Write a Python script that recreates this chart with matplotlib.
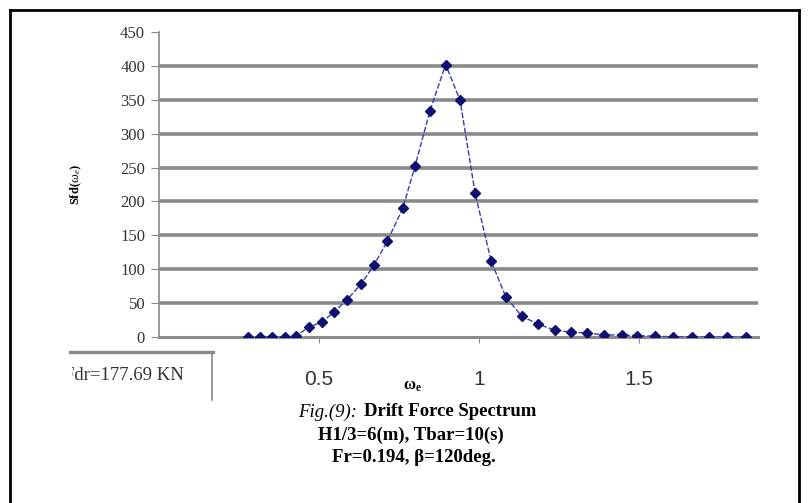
import matplotlib.pyplot as plt
from matplotlib.lines import Line2D
from matplotlib.transforms import Bbox

plt.rcParams['mathtext.fontset'] = 'custom'
plt.rcParams['mathtext.rm'] = 'Liberation Serif'
plt.rcParams['mathtext.it'] = 'Liberation Serif:italic'
plt.rcParams['mathtext.bf'] = 'Liberation Serif:bold'

# encounter frequency and drift force spectrum
omega = [0.278, 0.316, 0.353, 0.394, 0.428, 0.469, 0.509, 0.547, 0.588, 0.631,
         0.672, 0.713, 0.762, 0.800, 0.847, 0.896, 0.941, 0.988, 1.038, 1.084,
         1.133, 1.184, 1.238, 1.287, 1.337, 1.391, 1.446, 1.494, 1.550, 1.606,
         1.665, 1.719, 1.774, 1.836]
sfd = [0, 0, 0, 0, 1.5, 15, 22, 37, 55, 78,
       106, 141, 190, 252, 334, 402, 349, 212, 112, 59,
       31, 19, 10, 7, 6, 3, 3, 2, 1, 0.5,
       0, 0, 0, 0]
yticks = [0, 50, 100, 150, 200, 250, 300, 350, 400, 450]
xticks = [0.5, 1, 1.5]
xticklabels = ['0.5', '1', '1.5']

W, H = 808, 503
fig = plt.figure(figsize=(W / 100, H / 100), dpi=100)
ax = fig.add_axes([159 / W, (H - 337) / H, (758 - 159) / W, (337 - 32) / H])

for y in yticks[1:-1]:
    ax.axhline(y, color='#8a8a8a', lw=2.6, zorder=1)

ax.plot(omega, sfd, color='#3a3ab0', lw=1.0, ls=(0, (4, 1.5)), zorder=2)
ax.plot(omega, sfd, ls='none', marker='D', ms=5, color='#101070', zorder=3)

ax.set_xlim(0, 1.872)
ax.set_ylim(0, 450)
for s in ['top', 'right']:
    ax.spines[s].set_visible(False)
ax.spines['left'].set_color('#8a8a8a')
ax.spines['left'].set_linewidth(1.2)
ax.spines['bottom'].set_color('#8a8a8a')
ax.spines['bottom'].set_linewidth(2.2)
ax.spines['bottom'].set_zorder(1)

ax.set_yticks(yticks)
ax.set_yticklabels([str(v) for v in yticks], family='Liberation Serif',
                   fontsize=12, color='#333333')
ax.tick_params(axis='y', length=6, color='#8a8a8a', pad=4)
ax.set_xticks(xticks)
ax.set_xticklabels(xticklabels, family='Liberation Sans', fontsize=15, color='#333333')
ax.tick_params(axis='x', length=4, color='#8a8a8a', pad=20)

ax.set_ylabel(r'Sfd($\omega_e$)', family='Liberation Serif', fontsize=9,
              fontweight='bold')
ax.yaxis.set_label_coords(-0.125, 0.5)
fig.text(413 / W, 1 - 385 / H, r'$\mathbf{\omega_e}$', fontsize=12,
         ha='center', va='center')

# partly hidden text box at the lower left
fig.add_artist(Line2D([70 / W, 213 / W], [1 - 352 / H, 1 - 352 / H],
                      color='#8a8a8a', lw=2.4))
fig.add_artist(Line2D([212 / W, 212 / W], [1 - 352 / H, 1 - 400 / H],
                      color='#8a8a8a', lw=1.2))
t = fig.text(64 / W, 1 - 376 / H, 'Fdr=177.69 KN', family='Liberation Serif',
             fontsize=13.5, ha='left', va='center', color='#333333')
t.set_clip_box(Bbox([[72, 0], [211, H]]))
t.set_clip_on(True)

# caption
fig.text(357 / W, 1 - 412 / H, 'Fig.(9):', family='Liberation Serif',
         fontsize=13.5, style='italic', ha='right', va='center')
fig.text(364 / W, 1 - 412 / H, 'Drift Force Spectrum',
         family='Liberation Serif', fontsize=13.5, fontweight='bold',
         ha='left', va='center')
fig.text(411 / W, 1 - 435 / H, 'H1/3=6(m), Tbar=10(s)',
         family='Liberation Serif', fontsize=13.5, fontweight='bold',
         ha='center', va='center')
fig.text(414 / W, 1 - 457 / H, 'Fr=0.194, β=120deg.',
         family='Liberation Serif', fontsize=13.5, fontweight='bold',
         ha='center', va='center')

# outer frame (open at the bottom)
for xs, ys in [([10, 10], [10, H]), ([10, 799], [10, 10]), ([799, 799], [10, H])]:
    fig.add_artist(Line2D([x / W for x in xs], [1 - y / H for y in ys],
                          color='black', lw=2))

fig.savefig('out.png', dpi=100)
